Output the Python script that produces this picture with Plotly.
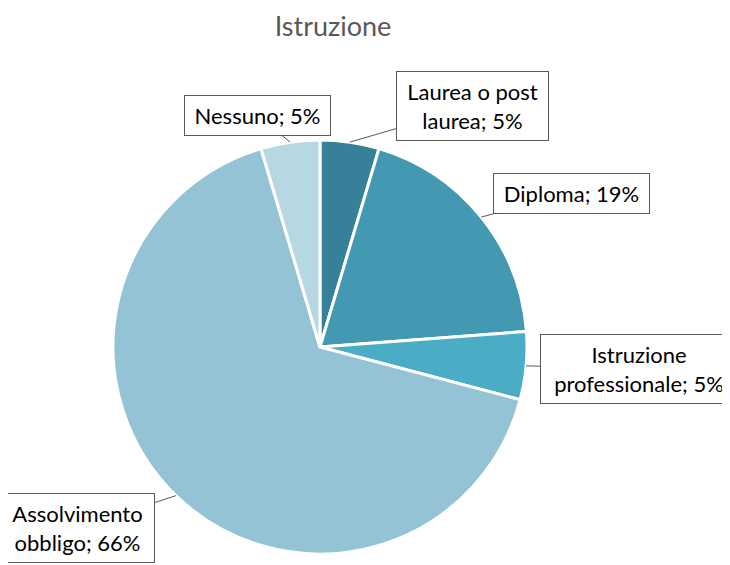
import math
import plotly.graph_objects as go

# ---- data ----
categories = ["Laurea o post laurea", "Diploma", "Istruzione professionale",
              "Assolvimento obbligo", "Nessuno"]
values = [4.6, 19.2, 5.3, 66.3, 4.6]
label_lines = ["Laurea o post<br>laurea", "Diploma", "Istruzione<br>professionale",
               "Assolvimento<br>obbligo", "Nessuno"]
colors = ["#36809A", "#4299B1", "#4AACC5", "#93C3D4", "#B7D8E2"]

# ---- layout constants (window pixels; page body has an 8px margin) ----
OFF = 8
W, H = 730 - OFF, 565 - OFF
cx, cy, r = 320 - OFF, 347 - OFF, 207
# pixel offset of label box centre from the leader tip, and box text widths
offsets = [(123, -36), (90, -24), (113, 3), (-98, 32), (-33, -27)]
box_w = [139, 143, 184, 141, 133]
FONT = "Lato, Open Sans, sans-serif"

fig = go.Figure(go.Pie(
    labels=categories, values=values, sort=False, direction="clockwise",
    rotation=0, textinfo="none", hoverinfo="label+percent",
    marker=dict(colors=colors, line=dict(color="white", width=3)),
    domain=dict(x=[(cx - r) / W, (cx + r) / W], y=[1 - (cy + r) / H, 1 - (cy - r) / H]),
    showlegend=False,
))

total = sum(values)
cum = 0
annotations = []
for lab, v, (dx, dy), bw in zip(label_lines, values, offsets, box_w):
    mid = (cum + v / 2) / total * 2 * math.pi
    cum += v
    tx = cx + r * math.sin(mid)
    ty = cy - r * math.cos(mid)
    pct = round(v / total * 100)
    annotations.append(dict(
        x=tx / W, y=1 - ty / H, xref="paper", yref="paper",
        text=f"{lab}; {pct}%", showarrow=True, arrowhead=0, arrowwidth=1,
        arrowcolor="#595959", ax=dx, ay=dy, axref="pixel", ayref="pixel",
        bgcolor="white", bordercolor="#595959", borderwidth=1, borderpad=6,
        width=bw,
        font=dict(family=FONT, size=22, color="#000000"),
        align="center",
    ))

fig.update_layout(
    width=W, height=H, margin=dict(l=0, r=0, t=0, b=0),
    paper_bgcolor="white", plot_bgcolor="white",
    title=dict(text="Istruzione", x=(333 - OFF) / W, xanchor="center",
               y=1 - (27 - OFF) / H, yanchor="middle",
               font=dict(family=FONT, size=27, color="#595959")),
    annotations=annotations,
)

fig.write_html("out.html")
